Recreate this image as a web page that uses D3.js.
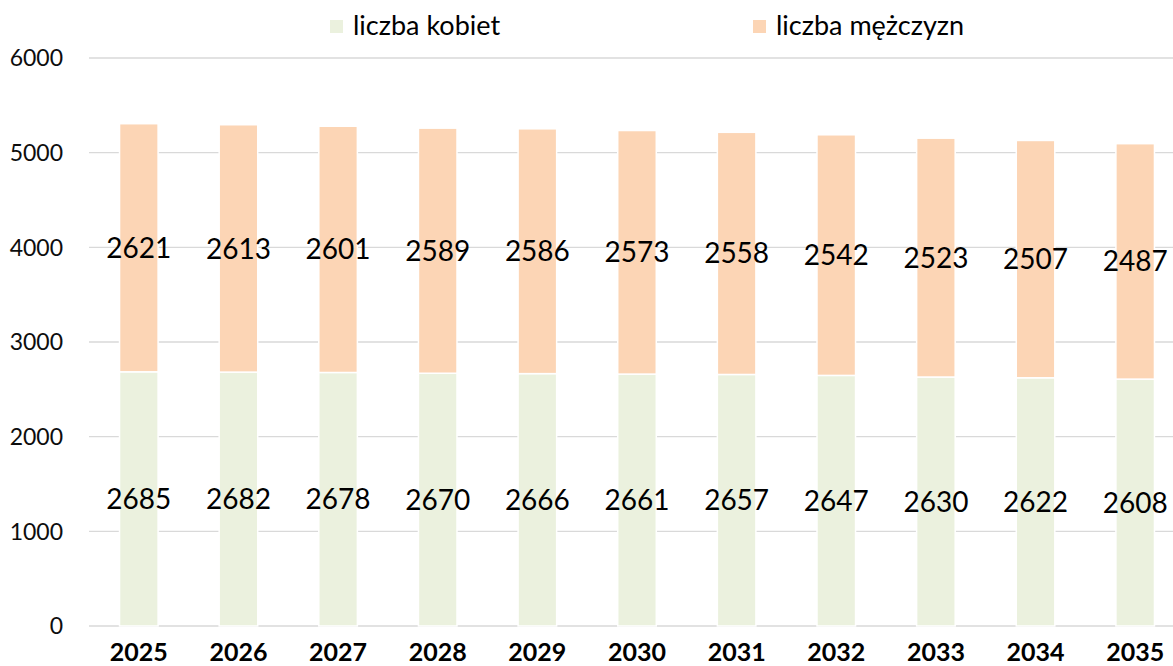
<!DOCTYPE html>
<html>
<head>
<meta charset="utf-8">
<script src="https://cdn.jsdelivr.net/npm/d3@7"></script>
<style>
  html, body { margin: 0; padding: 0; background: #fff; overflow: hidden; }
  text { font-family: Lato, "Open Sans", sans-serif; }
</style>
</head>
<body>
<svg id="chart" width="1173" height="666"></svg>
<script>
const years = ["2025","2026","2027","2028","2029","2030","2031","2032","2033","2034","2035"];
const women = [2685, 2682, 2678, 2670, 2666, 2661, 2657, 2647, 2630, 2622, 2608];
const men   = [2621, 2613, 2601, 2589, 2586, 2573, 2558, 2542, 2523, 2507, 2487];
const yTicks = [0, 1000, 2000, 3000, 4000, 5000, 6000];
const seriesNames = ["liczba kobiet", "liczba mężczyzn"];
const seriesColors = ["#EBF1DE", "#FCD5B5"];

const svg = d3.select("#chart");
const x = d3.scaleBand().domain(years).range([89, 1185]).paddingInner(0.613).paddingOuter(0.3065);
const y = d3.scaleLinear().domain([0, 6000]).range([626, 58]);

// gridlines
svg.append("g").selectAll("line").data(yTicks).join("line")
  .attr("x1", 89).attr("x2", 1185)
  .attr("y1", d => y(d)).attr("y2", d => y(d))
  .attr("stroke", "#D9D9D9").attr("stroke-width", 1.4);

// y tick labels
svg.append("g").selectAll("text").data(yTicks).join("text")
  .attr("x", 63).attr("y", d => y(d)).attr("dy", "0.36em")
  .attr("text-anchor", "end").attr("font-size", 23).attr("fill", "#0d0d0d")
  .text(d => d);

// stacked data
const rows = years.map((yr, i) => ({ year: yr, women: women[i], men: men[i] }));
const stack = d3.stack().keys(["women", "men"])(rows);

const layers = svg.append("g").selectAll("g").data(stack).join("g")
  .attr("fill", (d, i) => seriesColors[i]);
layers.selectAll("rect").data(d => d).join("rect")
  .attr("x", d => x(d.data.year))
  .attr("width", x.bandwidth())
  .attr("y", d => y(d[1]))
  .attr("height", d => y(d[0]) - y(d[1]))
  .attr("stroke", "#fff").attr("stroke-width", 1.5);

// data labels
const labels = svg.append("g");
stack.forEach(layer => {
  labels.selectAll(null).data(layer).join("text")
    .attr("x", d => x(d.data.year) + x.bandwidth() / 2)
    .attr("y", d => y((d[0] + d[1]) / 2))
    .attr("dy", "0.36em")
    .attr("text-anchor", "middle").attr("font-size", 28).attr("fill", "#000")
    .text(d => d[1] - d[0]);
});

// x labels
svg.append("g").selectAll("text").data(years).join("text")
  .attr("x", d => x(d) + x.bandwidth() / 2).attr("y", 661)
  .attr("text-anchor", "middle").attr("font-size", 25).attr("font-weight", "bold").attr("fill", "#000")
  .text(d => d);

// legend
const legendX = [330, 753];
const lg = svg.append("g");
seriesNames.forEach((name, i) => {
  lg.append("rect").attr("x", legendX[i]).attr("y", 20).attr("width", 13).attr("height", 13).attr("fill", seriesColors[i]);
  lg.append("text").attr("x", legendX[i] + 23).attr("y", 35).attr("font-size", 27).attr("fill", "#000").text(name);
});
</script>
</body>
</html>
